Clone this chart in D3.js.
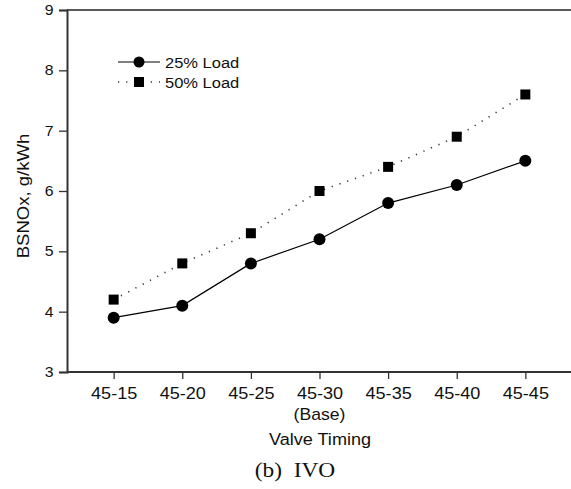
<!DOCTYPE html>
<html>
<head>
<meta charset="utf-8">
<script src="https://d3js.org/d3.v7.min.js"></script>
<style>
  body { margin: 0; background: #fff; }
  text { font-family: "Liberation Sans", Arial, sans-serif; fill: #111; }
</style>
</head>
<body>
<div class="chart"></div>
<script>
// data
const timings = ['45-15', '45-20', '45-25', '45-30', '45-35', '45-40', '45-45']
const load25 = [3.9, 4.1, 4.8, 5.2, 5.8, 6.1, 6.5]
const load50 = [4.2, 4.8, 5.3, 6.0, 6.4, 6.9, 7.6]
const yTicks = [3, 4, 5, 6, 7, 8, 9]

const width = 571
const height = 489
const plotL = 67, plotR = 572, plotT = 10, plotB = 372
const stretch = 1.13 // the original figure's lettering is a bit wide

const svg = d3.select('.chart').append('svg')
  .attr('width', width).attr('height', height)

const x = d3.scalePoint().domain(timings).range([plotL, plotR]).padding(0.68)
const y = d3.scaleLinear().domain([3, 9]).range([plotB, plotT])

// text placed at (px,py) and widened a little
function label(parent, px, py, str, size, anchor, s) {
  return parent.append('text')
    .attr('transform', `translate(${px},${py}) scale(${s || stretch},1)`)
    .attr('text-anchor', anchor || 'start')
    .style('font-size', size + 'px')
    .text(str)
}

// frame: top line
svg.append('line')
  .attr('x1', plotL).attr('x2', plotR).attr('y1', plotT).attr('y2', plotT)
  .attr('stroke', '#222').attr('stroke-width', 1.5)

const yAxis = svg.append('g')
  .attr('transform', `translate(${plotL},0)`)
  .call(d3.axisLeft(y).tickValues(yTicks).tickFormat(d3.format('d')).tickSize(8).tickPadding(4))
yAxis.selectAll('text')
  .style('font-size', '14px')
  .attr('transform', `scale(${stretch},1)`)

const xAxis = svg.append('g')
  .attr('transform', `translate(0,${plotB})`)
  .call(d3.axisBottom(x).tickSize(7).tickPadding(9).tickSizeOuter(0))
xAxis.selectAll('text')
  .style('font-size', '16px')
  .attr('transform', `scale(${stretch},1)`)

svg.selectAll('.domain').attr('stroke', '#333').attr('stroke-width', 2)
svg.selectAll('.tick line').attr('stroke', '#333').attr('stroke-width', 1.3)
xAxis.select('.domain').attr('d', `M${plotL},0H${plotR}`)

label(svg, x('45-30'), plotB + 48, '(Base)', 16, 'middle', 1.1)
label(svg, x('45-30') + 0.5, plotB + 73, 'Valve Timing', 16, 'middle')

svg.append('text')
  .attr('transform', `translate(29,${(plotT + plotB) / 2 + 5}) rotate(-90) scale(1.16,1)`)
  .attr('text-anchor', 'middle').style('font-size', '16px')
  .text('BSNOx, g/kWh')

label(svg, 295, 477, '(b)  IVO', 20, 'middle', 1.17)
  .style('font-family', '"Liberation Serif", "Times New Roman", serif')
  .style('white-space', 'pre')

// series
const line = d3.line().x((d, i) => x(timings[i])).y(d => y(d))

svg.append('path').datum(load50)
  .attr('d', line).attr('fill', 'none')
  .attr('stroke', '#333').attr('stroke-width', 1.6)
  .attr('stroke-dasharray', '1.2,7')

svg.append('path').datum(load25)
  .attr('d', line).attr('fill', 'none')
  .attr('stroke', '#000').attr('stroke-width', 1.2)

svg.append('g').selectAll('rect')
  .data(load50).join('rect')
  .attr('x', (d, i) => x(timings[i]) - 5)
  .attr('y', d => y(d) - 5)
  .attr('width', 10).attr('height', 10)
  .attr('fill', '#000')

svg.append('g').selectAll('circle')
  .data(load25).join('circle')
  .attr('cx', (d, i) => x(timings[i]))
  .attr('cy', d => y(d))
  .attr('r', 6)
  .attr('fill', '#000')

// legend
const legend = svg.append('g').attr('transform', 'translate(118,62)')
legend.append('line').attr('x1', 0).attr('x2', 42)
  .attr('stroke', '#000').attr('stroke-width', 1.2)
legend.append('circle').attr('cx', 21).attr('r', 5.5).attr('fill', '#000')
label(legend, 47, 6, '25% Load', 15, 'start', 1.1)

const legend2 = legend.append('g').attr('transform', 'translate(0,20)')
legend2.append('line').attr('x1', 0).attr('x2', 42)
  .attr('stroke', '#333').attr('stroke-width', 1.4).attr('stroke-dasharray', '1.2,7')
legend2.append('rect').attr('x', 16).attr('y', -5).attr('width', 10).attr('height', 10).attr('fill', '#000')
label(legend2, 47, 6, '50% Load', 15, 'start', 1.1)
</script>
</body>
</html>
